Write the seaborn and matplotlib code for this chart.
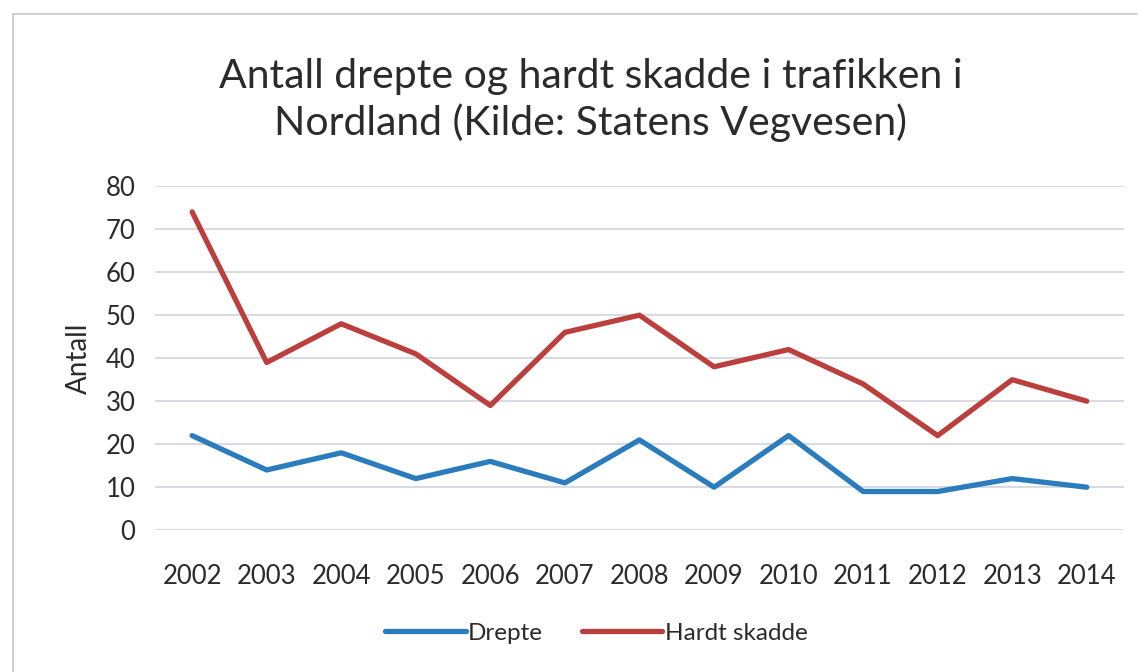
import pandas as pd
import matplotlib.pyplot as plt
import seaborn as sns
from matplotlib.lines import Line2D

years = [2002, 2003, 2004, 2005, 2006, 2007, 2008,
         2009, 2010, 2011, 2012, 2013, 2014]
drepte = [22, 14, 18, 12, 16, 11, 21, 10, 22, 9, 9, 12, 10]
hardt_skadde = [74, 39, 48, 41, 29, 46, 50, 38, 42, 34, 22, 35, 30]
y_ticks = [0, 10, 20, 30, 40, 50, 60, 70, 80]

title = "Antall drepte og hardt skadde i trafikken i\nNordland (Kilde: Statens Vegvesen)"
series_names = ["Drepte", "Hardt skadde"]
colors = {"Drepte": "#2a7cbc", "Hardt skadde": "#bb3f3d"}

df = pd.concat([
    pd.DataFrame({"År": years, "Antall": drepte, "Serie": series_names[0]}),
    pd.DataFrame({"År": years, "Antall": hardt_skadde, "Serie": series_names[1]}),
])

sns.set_style("white")
plt.rcParams['font.family'] = ['Lato', 'DejaVu Sans']
text_color = "#2b2b2b"

fig = plt.figure(figsize=(11.47, 6.72), dpi=100)
ax = fig.add_axes([0.135, 0.211, 0.845, 0.512])

sns.lineplot(data=df, x="År", y="Antall", hue="Serie", palette=colors,
             linewidth=3.8, ax=ax, legend=False)

ax.set_xlim(years[0] - 0.5, years[-1] + 0.5)
ax.set_ylim(y_ticks[0], y_ticks[-1])
ax.set_xticks(years)
ax.set_xticklabels([str(y) for y in years])
ax.set_yticks(y_ticks)
ax.tick_params(axis="both", length=0, labelsize=18.5, colors=text_color)
ax.tick_params(axis="x", pad=24)
ax.tick_params(axis="y", pad=14)

ax.yaxis.grid(True, color="#d3d3e0", linewidth=1.2)
ax.xaxis.grid(False)
for s in ax.spines.values():
    s.set_visible(False)
ax.set_axisbelow(True)

ax.set_xlabel("")
ax.set_ylabel("Antall", fontsize=20, color=text_color, labelpad=10)

fig.text(0.515, 0.851, title, ha="center", va="center", fontsize=29.5,
         color=text_color, linespacing=1.25)

handles = [Line2D([0], [0], color=colors[n], linewidth=3.8) for n in series_names]
fig.legend(handles, series_names, loc="center", bbox_to_anchor=(0.52, 0.058),
           ncol=2, frameon=False, fontsize=17.5, handlelength=3.3,
           handletextpad=0.1, columnspacing=1.6, labelcolor=text_color)

# faint chart border from the scanned original
fig.add_artist(Line2D([0.011, 0.991], [0.979, 0.979], transform=fig.transFigure,
                      color="#c8c8d2", linewidth=1.2))
fig.add_artist(Line2D([0.011, 0.011], [0.0, 0.979], transform=fig.transFigure,
                      color="#c8c8d2", linewidth=1.2))

fig.savefig("out.png", dpi=100, facecolor="white")
